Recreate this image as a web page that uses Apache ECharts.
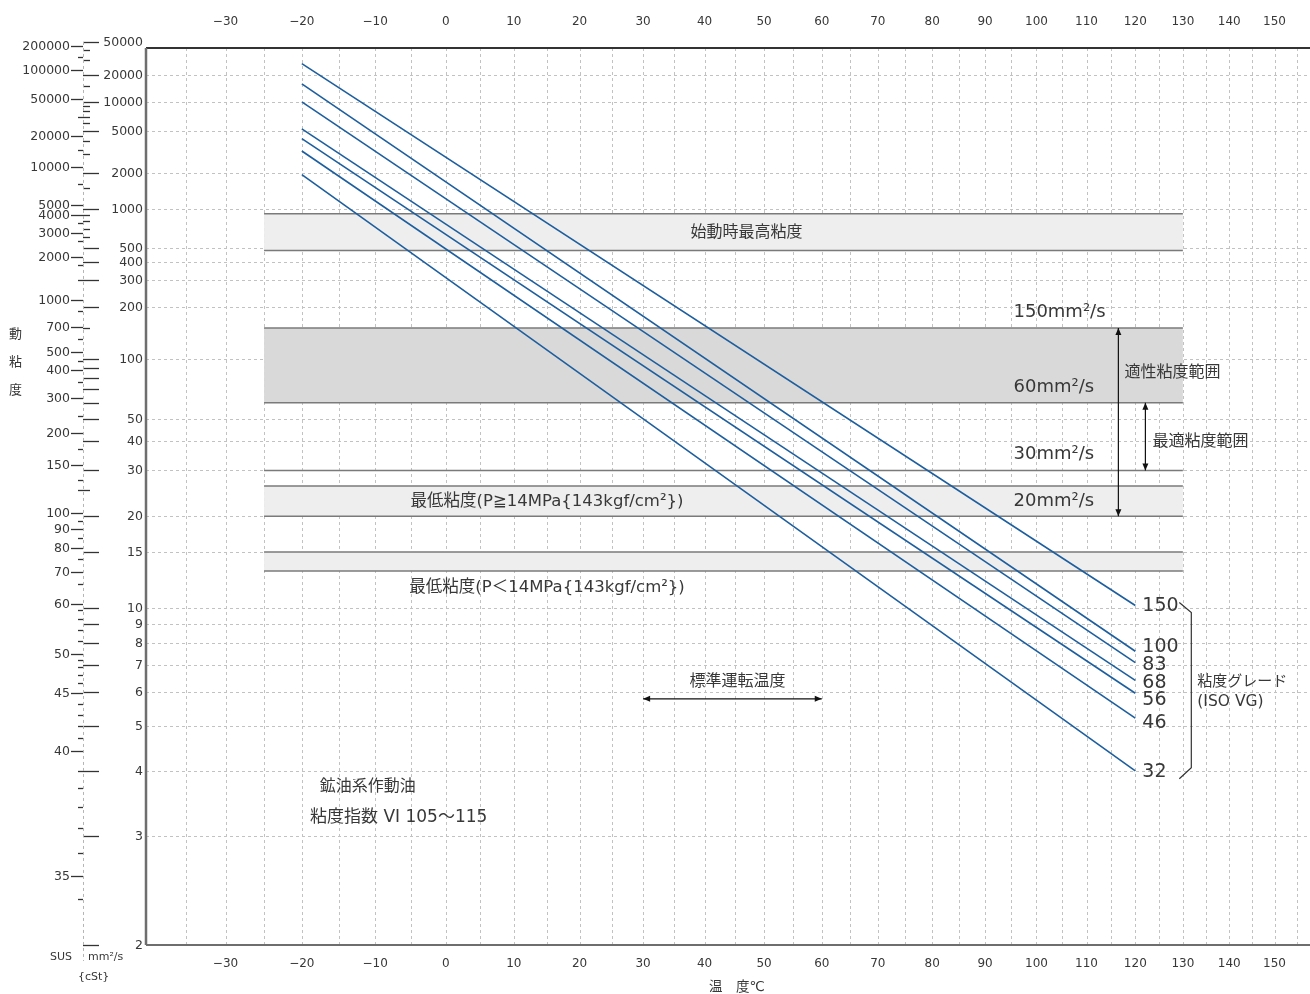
<!DOCTYPE html>
<html>
<head>
<meta charset="utf-8">
<title>作動油 粘度−温度線図</title>
<script src="https://cdn.jsdelivr.net/npm/echarts@6/dist/echarts.min.js"></script>
<style>
  html, body { margin: 0; padding: 0; background: #ffffff; }
  #chart { width: 1310px; height: 994px; }
</style>
</head>
<body>
<div id="chart"></div>
<script>
// ---- data -------------------------------------------------------------
// ISO VG grades, viscosity (mm²/s) at -20 °C and at 120 °C
const grades        = ['150', '100', '83', '68', '56', '46', '32'];
const lineStartTemp = -20;
const lineEndTemp   = 120;
const viscStart     = [27100, 15800, 10000, 5240, 4200, 3200, 1950];
const viscEnd       = [10.2, 7.6, 7.1, 6.4, 5.95, 5.2, 4.0];

// temperature axis (°C)
const tempLabels = [-30, -20, -10, 0, 10, 20, 30, 40, 50, 60, 70, 80, 90, 100, 110, 120, 130, 140, 150];
const tempGrid   = [-35, -30, -25, -20, -15, -10, -5, 0, 5, 10, 15, 20, 25, 30, 35, 40, 45, 50, 55, 60,
                    65, 70, 75, 80, 85, 90, 95, 100, 105, 110, 115, 120, 125, 130, 135, 140, 145, 150, 155];
const tempMin = -40, tempMax = 158;

// kinematic viscosity axis (mm²/s)
const cstLabels    = [50000, 20000, 10000, 5000, 2000, 1000, 500, 400, 300, 200, 100, 50, 40, 30, 20, 15, 10, 9, 8, 7, 6, 5, 4, 3, 2];
const cstLongTicks = [90, 80, 70, 60];
const cstMinor     = [40000, 30000, 15000, 9000, 8000, 7000, 6000, 4000, 3000, 1500, 900, 800, 700, 600,
                      150, 25];
const cstMin = 2, cstMax = 42000;

// Saybolt scale: SUS value and its equivalent in mm²/s
const susLabels = [200000, 100000, 50000, 20000, 10000, 5000, 4000, 3000, 2000, 1000, 700, 500, 400, 300, 200, 150,
                   100, 90, 80, 70, 60, 50, 45, 40, 35];
const susInCst  = [44000, 23000, 10800, 4430, 2260, 1080, 888, 649, 430, 224, 152, 110, 88, 63.2, 43.3, 31.6,
                   20.5, 18.0, 15.45, 12.96, 10.3, 7.47, 5.97, 4.41, 2.56];
const susMinorInCst = [33000, 7000, 3300, 1600, 780, 560, 380, 300, 190, 130, 98, 76, 52, 37, 27.5, 25,
                       19.2, 16.7, 14.2, 11.8, 9.9, 9.3, 8.7, 8.1, 7.2, 6.9, 6.6, 6.3, 5.6, 5.3, 5.0, 4.7,
                       4.0, 3.7, 3.4, 3.1, 2.8, 2.35];

// viscosity bands (upper, lower) in mm²/s, drawn from -25 °C to 130 °C
const bandTempFrom = -25, bandTempTo = 130;
const bandLimits   = [[915, 481], [150, 60], [26, 20], [15, 13]];
const singleLimits = [30];

// ---- scales: ASTM-style chart (log absolute temperature, log-log viscosity)
const tx = t => Math.log10(t + 273.15);
const ty = v => Math.log10(Math.log10(v + 0.6));
const X_MIN = tx(tempMin), X_MAX = tx(tempMax);
const Y_MIN = ty(cstMin),  Y_MAX = ty(cstMax);

// ---- styling ------------------------------------------------------------
const FONT = "'DejaVu Sans', 'Noto Sans CJK JP', sans-serif";
const INK = '#383838';
const GRID = '#c2c2c2';
const BLUE = '#1d5e9e';
const bandFills = ['#eeeeee', '#d9d9d9', '#eeeeee', '#eeeeee'];
const gradeNudge = [1, -4, 3, 3, 7, 5, 1];

function txt(x, y, s, size, align, vAlign, color) {
  return {
    type: 'text', x: x, y: y,
    style: {
      text: s, fill: color || INK, font: size + 'px ' + FONT,
      align: align || 'center', verticalAlign: vAlign || 'middle',
      textAlign: align || 'center', textVerticalAlign: vAlign || 'middle'
    }
  };
}
function seg(x1, y1, x2, y2, stroke, width, dash) {
  const st = { stroke: stroke, lineWidth: width };
  if (dash) st.lineDash = dash;
  return { type: 'line', shape: { x1: x1, y1: y1, x2: x2, y2: y2 }, style: st };
}
const crisp = v => Math.round(v) + 0.5;
function custom(data, render, z) {
  return { type: 'custom', data: data, renderItem: render, silent: true, clip: false, z: z || 2, animation: false };
}
function arrowHead(x, y, dx, dy) {
  // triangle pointing along (dx, dy)
  const L = 7, W = 3;
  const px = -dy, py = dx;
  return {
    type: 'polygon',
    shape: { points: [[x, y], [x - dx * L + px * W, y - dy * L + py * W], [x - dx * L - px * W, y - dy * L - py * W]] },
    style: { fill: '#111' }
  };
}
function doubleArrow(a, b) {
  const len = Math.hypot(b[0] - a[0], b[1] - a[1]);
  const dx = (b[0] - a[0]) / len, dy = (b[1] - a[1]) / len;
  return {
    type: 'group', children: [
      seg(a[0], a[1], b[0], b[1], '#111', 1.2),
      arrowHead(b[0], b[1], dx, dy),
      arrowHead(a[0], a[1], -dx, -dy)
    ]
  };
}

const fmtTemp = t => (t < 0 ? '\u2212' + Math.abs(t) : String(t));

// ---- annotation layout: [text, °C, mm²/s, dx, dy, align, size]
const notes = [
  ['始動時最高粘度', 47, Math.sqrt(915 * 481), 0, 1, 'center', 16],
  ['150mm²/s', 95.5, 150, 0, -16, 'left', 18],
  ['60mm²/s', 95.5, 60, 0, -15, 'left', 18],
  ['30mm²/s', 95.5, 30, 0, -16, 'left', 18],
  ['20mm²/s', 95.5, 20, 0, -15, 'left', 18],
  ['適性粘度範囲', 116.5, 86, 6, 1, 'left', 16],
  ['最適粘度範囲', 122.1, 40, 7, 1, 'left', 16],
  ['最低粘度(P≧14MPa{143kgf/cm²})', 15, 22.8, 0, 1, 'center', 16.5],
  ['最低粘度(P＜14MPa{143kgf/cm²})', 15, 11.6, 0, 1, 'center', 16.5],
  ['標準運転温度', 45.5, 6.38, 0, 1, 'center', 16],
  ['鉱油系作動油', -17.6, 3.73, 0, 1, 'left', 16],
  ['粘度指数 VI 105〜115', -18.9, 3.25, 0, 1, 'left', 17]
];
// double arrows: [[°C, mm²/s], [°C, mm²/s]]
const arrows = [
  [[116.5, 150], [116.5, 20]],
  [[122.1, 60], [122.1, 30]],
  [[30, 5.77], [60, 5.77]]
];

// ---- series ---------------------------------------------------------------
const series = [];

// vertical grid
series.push(custom(tempGrid.map(t => [tx(t), Y_MIN]), (p, api) => {
  const a = api.coord([api.value(0), Y_MIN]), b = api.coord([api.value(0), Y_MAX]);
  return seg(crisp(a[0]), a[1], crisp(a[0]), b[1], GRID, 1, [3, 3]);
}, 1));

// horizontal grid
series.push(custom(cstLabels.slice(1, -1).map(v => [X_MIN, ty(v)]), (p, api) => {
  const a = api.coord([X_MIN, api.value(1)]), b = api.coord([X_MAX, api.value(1)]);
  return seg(a[0], crisp(a[1]), b[0], crisp(a[1]), GRID, 1, [3, 3]);
}, 1));

// bands
series.push(custom(bandLimits.map(b => [tx(bandTempFrom), ty(b[0])]), (p, api) => {
  const lim = bandLimits[p.dataIndex];
  const a = api.coord([tx(bandTempFrom), ty(lim[0])]);
  const b = api.coord([tx(bandTempTo), ty(lim[1])]);
  return {
    type: 'group', children: [
      { type: 'rect', shape: { x: a[0], y: a[1], width: b[0] - a[0], height: b[1] - a[1] }, style: { fill: bandFills[p.dataIndex] } },
      seg(a[0], a[1], b[0], a[1], '#7a7a7a', 1.5),
      seg(a[0], b[1], b[0], b[1], '#7a7a7a', 1.5)
    ]
  };
}, 2));
series.push(custom(singleLimits.map(v => [tx(bandTempFrom), ty(v)]), (p, api) => {
  const a = api.coord([tx(bandTempFrom), api.value(1)]);
  const b = api.coord([tx(bandTempTo), api.value(1)]);
  return seg(a[0], a[1], b[0], b[1], '#7a7a7a', 1.5);
}, 2));

// temperature labels (top and bottom)
series.push(custom(tempLabels.map(t => [tx(t), Y_MIN]), (p, api) => {
  const a = api.coord([api.value(0), Y_MAX]), b = api.coord([api.value(0), Y_MIN]);
  const s = fmtTemp(tempLabels[p.dataIndex]);
  return { type: 'group', children: [txt(a[0], a[1] - 26, s, 12), txt(b[0], b[1] + 19, s, 12)] };
}, 3));

// mm²/s axis
series.push(custom(cstLabels.map(v => [X_MIN, ty(v)]), (p, api) => {
  const gl = api.coord([X_MIN, Y_MIN])[0];
  const y = crisp(api.coord([X_MIN, api.value(1)])[1]);
  return { type: 'group', children: [seg(gl - 63, y, gl - 47, y, '#333', 1.3), txt(gl - 3, y, String(cstLabels[p.dataIndex]), 12.5, 'right')] };
}, 3));
series.push(custom(cstLongTicks.map(v => [X_MIN, ty(v)]), (p, api) => {
  const gl = api.coord([X_MIN, Y_MIN])[0];
  const y = crisp(api.coord([X_MIN, api.value(1)])[1]);
  return seg(gl - 63, y, gl - 47, y, '#333', 1.3);
}, 3));
series.push(custom(cstMinor.map(v => [X_MIN, ty(v)]), (p, api) => {
  const gl = api.coord([X_MIN, Y_MIN])[0];
  const y = crisp(api.coord([X_MIN, api.value(1)])[1]);
  return seg(gl - 63, y, gl - 56, y, '#333', 1.3);
}, 3));

// SUS axis
series.push(custom(susInCst.map(v => [X_MIN, ty(v)]), (p, api) => {
  const gl = api.coord([X_MIN, Y_MIN])[0];
  const y = crisp(api.coord([X_MIN, api.value(1)])[1]);
  return { type: 'group', children: [seg(gl - 75, y, gl - 63, y, '#333', 1.3), txt(gl - 76, y, String(susLabels[p.dataIndex]), 12.5, 'right')] };
}, 3));
series.push(custom(susMinorInCst.map(v => [X_MIN, ty(v)]), (p, api) => {
  const gl = api.coord([X_MIN, Y_MIN])[0];
  const y = crisp(api.coord([X_MIN, api.value(1)])[1]);
  return seg(gl - 68, y, gl - 63, y, '#333', 1.3);
}, 3));

// frame: borders and the dotted scale spine
series.push(custom([[X_MIN, Y_MIN]], (p, api) => {
  const tl = api.coord([X_MIN, Y_MAX]), br = api.coord([X_MAX, Y_MIN]);
  const yTop = api.coord([X_MIN, ty(cstLabels[0])])[1];
  const gl = tl[0];
  return {
    type: 'group', children: [
      seg(gl - 63 + 0.5, yTop, gl - 63 + 0.5, br[1] + 16, '#b5b5b5', 1, [3, 3]),
      seg(gl, tl[1], br[0], tl[1], '#333', 2),
      seg(gl, br[1], br[0], br[1], '#6e6e6e', 2),
      seg(gl, tl[1], gl, br[1], '#6e6e6e', 2.5)
    ]
  };
}, 4));

// viscosity-temperature lines
grades.forEach((g, i) => {
  series.push({
    type: 'line', name: 'VG' + g, silent: true, animation: false, z: 5,
    symbol: 'none', lineStyle: { color: BLUE, width: 1.6 },
    data: [[tx(lineStartTemp), ty(viscStart[i])], [tx(lineEndTemp), ty(viscEnd[i])]]
  });
});

// grade labels and bracket
series.push(custom(grades.map((g, i) => [tx(lineEndTemp), ty(viscEnd[i])]), (p, api) => {
  const e = api.coord([api.value(0), api.value(1)]);
  const children = [txt(e[0] + 7, e[1] + gradeNudge[p.dataIndex], grades[p.dataIndex], 19, 'left')];
  if (p.dataIndex === 0) {
    const last = grades.length - 1;
    const top = api.coord([tx(lineEndTemp), ty(viscEnd[0])]);
    const bot = api.coord([tx(lineEndTemp), ty(viscEnd[last])]);
    const x0 = top[0] + 44, x1 = top[0] + 56;
    const y0 = top[1] - 3, y1 = bot[1] + 8;
    children.push({
      type: 'polyline',
      shape: { points: [[x0, y0], [x1, y0 + 10], [x1, y1 - 11], [x0, y1]] },
      style: { stroke: '#333', lineWidth: 1.2, fill: null }
    });
    const ym = (y0 + y1) / 2;
    children.push(txt(x1 + 6, ym - 9, '粘度グレード', 15, 'left'));
    children.push(txt(x1 + 6, ym + 11, '(ISO VG)', 15.5, 'left'));
  }
  return { type: 'group', children: children };
}, 6));

// annotations
series.push(custom(notes.map(n => [tx(n[1]), ty(n[2])]), (p, api) => {
  const n = notes[p.dataIndex];
  const c = api.coord([api.value(0), api.value(1)]);
  return txt(c[0] + n[3], c[1] + n[4], n[0], n[6], n[5]);
}, 7));
series.push(custom(arrows.map(a => [tx(a[0][0]), ty(a[0][1])]), (p, api) => {
  const ar = arrows[p.dataIndex];
  const a = api.coord([tx(ar[0][0]), ty(ar[0][1])]);
  const b = api.coord([tx(ar[1][0]), ty(ar[1][1])]);
  return doubleArrow(a, b);
}, 7));

const chart = echarts.init(document.getElementById('chart'), null, { renderer: 'canvas' });
chart.setOption({
  backgroundColor: '#ffffff',
  animation: false,
  grid: { left: 146, top: 48, width: 1164, height: 897, containLabel: false },
  xAxis: { type: 'value', min: X_MIN, max: X_MAX, show: false },
  yAxis: { type: 'value', min: Y_MIN, max: Y_MAX, show: false },
  graphic: [
    { type: 'text', left: 9, top: 328, style: { text: '動', font: '13px ' + FONT, fill: INK } },
    { type: 'text', left: 9, top: 356, style: { text: '粘', font: '13px ' + FONT, fill: INK } },
    { type: 'text', left: 9, top: 384, style: { text: '度', font: '13px ' + FONT, fill: INK } },
    { type: 'text', left: 50, top: 952, style: { text: 'SUS', font: '11px ' + FONT, fill: INK } },
    { type: 'text', left: 88, top: 952, style: { text: 'mm²/s', font: '11px ' + FONT, fill: INK } },
    { type: 'text', left: 78, top: 972, style: { text: '{cSt}', font: '11px ' + FONT, fill: INK } },
    { type: 'text', left: 709, top: 981, style: { text: '温　度℃', font: '13.5px ' + FONT, fill: INK } }
  ],
  series: series
});
</script>
</body>
</html>
